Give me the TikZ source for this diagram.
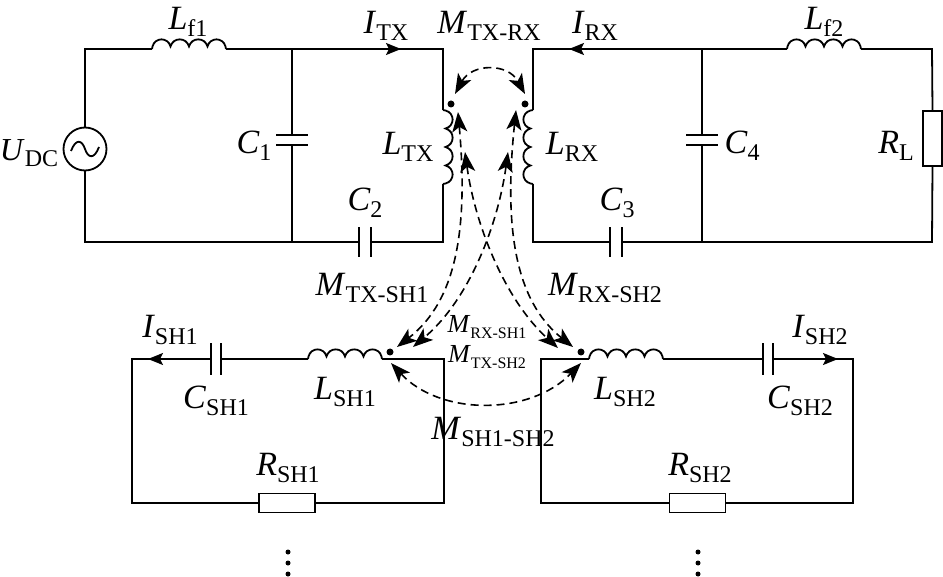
\documentclass[tikz,border=0pt]{standalone}
\usepackage{fontspec}
\setmainfont{Liberation Serif}
\usetikzlibrary{arrows.meta}
\newcommand{\lab}[2]{\textit{#1}\raisebox{-0.2em}{\fontsize{24}{24}\selectfont #2}}
\newcommand{\labs}[2]{{\fontsize{26}{26}\selectfont\textit{#1}\raisebox{-0.2em}{\fontsize{16}{16}\selectfont #2}}}
\tikzset{
  wire/.style={line width=1.8pt,line join=miter},
  tipS/.tip={Stealth[length=20pt,width=15pt,inset=5pt]},
  mutual/.style={line width=1.6pt,dash pattern=on 8pt off 5pt,{tipS}-{tipS}},
  cur/.style={line width=1.8pt,-{Stealth[length=15pt,width=12pt,inset=3pt]}},
  lbl/.style={font=\fontsize{34}{34}\selectfont,inner sep=0pt},
  dotn/.style={circle,fill=black,inner sep=0pt,minimum size=7pt},
  vdotn/.style={circle,fill=black,inner sep=0pt,minimum size=5pt},
  resn/.style={draw,line width=1.6pt,fill=white,inner sep=0pt},
  coil/.pic={\draw[wire] (0,0) -- (0.5,-2.5)
    .. controls (3,-12) and (16,-12) .. (18.5,-2.5)
    .. controls (21,-12) and (34.5,-12) .. (37,-2.5)
    .. controls (39.5,-12) and (53,-12) .. (55.5,-2.5)
    .. controls (58,-12) and (71,-12) .. (73.5,-2.5) -- (74,0);},
}
\begin{document}
\begin{tikzpicture}[x=1pt,y=-1pt]
\useasboundingbox (0,0) rectangle (943,577);
% --- coordinates
\coordinate (a1) at (85,49); \coordinate (a2) at (292,49); \coordinate (a3) at (443,49);
\coordinate (a4) at (443,242); \coordinate (a5) at (292,242); \coordinate (a6) at (85,242);
\coordinate (lf1a) at (152,49); \coordinate (lf1b) at (226,49);
\coordinate (ltxa) at (443,110); \coordinate (ltxb) at (443,184);
\coordinate (c1a) at (292,135); \coordinate (c1b) at (292,145);
\coordinate (c2a) at (359,242); \coordinate (c2b) at (371,242);
\coordinate (b1) at (533,49); \coordinate (b2) at (702,49); \coordinate (b3) at (932,49);
\coordinate (b4) at (932,242); \coordinate (b5) at (702,242); \coordinate (b6) at (533,242);
\coordinate (lf2a) at (787,49); \coordinate (lf2b) at (861,49);
\coordinate (lrxa) at (533,110); \coordinate (lrxb) at (533,184);
\coordinate (c4a) at (702,135); \coordinate (c4b) at (702,145);
\coordinate (c3a) at (610,242); \coordinate (c3b) at (622,242);
\coordinate (s1) at (132,359); \coordinate (s2) at (444,359); \coordinate (s3) at (444,503); \coordinate (s4) at (132,503);
\coordinate (lsaa) at (308,359); \coordinate (lsab) at (382,359);
\coordinate (csaa) at (211,359); \coordinate (csab) at (221,359);
\coordinate (t1) at (541,359); \coordinate (t2) at (853,359); \coordinate (t3) at (853,503); \coordinate (t4) at (541,503);
\coordinate (lsba) at (589,359); \coordinate (lsbb) at (663,359);
\coordinate (csba) at (763,359); \coordinate (csbb) at (773,359);
% --- parts
\node[draw,circle,line width=1.8pt,minimum size=43pt,inner sep=0pt] (src) at (85,149) {};
\node[resn,minimum width=19pt,minimum height=55pt] (rl) at (932.5,138.5) {};
\node[resn,minimum width=56pt,minimum height=19pt] (rs1) at (287,503) {};
\node[resn,minimum width=56pt,minimum height=19pt] (rs2) at (697.5,503) {};
\draw[wire] (71,151) .. controls (76,138) and (82,140) .. (85,149) .. controls (88,158) and (94,160) .. (99,147);
% --- wires
\draw[wire] (src.north) -- (a1) -- (lf1a);
\draw[wire] (lf1b) -- (a2) -- (a3) -- (ltxa);
\draw[wire] (ltxb) -- (a4) -- (c2b);
\draw[wire] (c2a) -- (a5) -- (a6) -- (src.south);
\draw[wire] (a2) -- (c1a); \draw[wire] (c1b) -- (a5);
\draw[wire] (lrxa) -- (b1) -- (b2) -- (lf2a);
\draw[wire] (lf2b) -- (b3) -- (rl.north);
\draw[wire] (rl.south) -- (b4) -- (b5) -- (c3b);
\draw[wire] (c3a) -- (b6) -- (lrxb);
\draw[wire] (b2) -- (c4a); \draw[wire] (c4b) -- (b5);
\draw[wire] (csaa) -- (s1) -- (s4) -- (rs1.west);
\draw[wire] (rs1.east) -- (s3) -- (s2) -- (lsab);
\draw[wire] (lsaa) -- (csab);
\draw[wire] (lsba) -- (t1) -- (t4) -- (rs2.west);
\draw[wire] (rs2.east) -- (t3) -- (t2) -- (csbb);
\draw[wire] (csba) -- (lsbb);
% --- coils
\pic at (lf1a) {coil}; \pic at (lf2a) {coil}; \pic at (lsaa) {coil}; \pic at (lsba) {coil};
\pic[rotate=-90] at (ltxa) {coil};
\pic[rotate=90] at (lrxb) {coil};
% --- capacitors
\draw[wire] ([xshift=-16pt]c1a) -- ([xshift=16pt]c1a);
\draw[wire] ([xshift=-16pt]c1b) -- ([xshift=16pt]c1b);
\draw[wire] ([xshift=-16pt]c4a) -- ([xshift=16pt]c4a);
\draw[wire] ([xshift=-16pt]c4b) -- ([xshift=16pt]c4b);
\draw[wire] ([yshift=-15pt]c2a) -- ([yshift=15pt]c2a);
\draw[wire] ([yshift=-15pt]c2b) -- ([yshift=15pt]c2b);
\draw[wire] ([yshift=-15pt]c3a) -- ([yshift=15pt]c3a);
\draw[wire] ([yshift=-15pt]c3b) -- ([yshift=15pt]c3b);
\draw[wire] ([yshift=-16pt]csaa) -- ([yshift=16pt]csaa);
\draw[wire] ([yshift=-16pt]csab) -- ([yshift=16pt]csab);
\draw[wire] ([yshift=-16pt]csba) -- ([yshift=16pt]csba);
\draw[wire] ([yshift=-16pt]csbb) -- ([yshift=16pt]csbb);
% --- current arrows
\coordinate (itx) at (380,49); \coordinate (itxe) at (401,49);
\coordinate (irx) at (590,49); \coordinate (irxe) at (569,49);
\coordinate (ia) at (170,359); \coordinate (iae) at (148,359);
\coordinate (ib) at (815,359); \coordinate (ibe) at (838,359);
\draw[cur] (itx) -- (itxe); \draw[cur] (irx) -- (irxe);
\draw[cur] (ia) -- (iae); \draw[cur] (ib) -- (ibe);
% --- dots
\node[dotn] (d1) at (451,104) {};
\node[dotn] (d2) at (525,104) {};
\node[dotn] (d3) at (390,352) {};
\node[dotn] (d4) at (581,352) {};
% --- mutual couplings
\coordinate (m1a) at (455,94); \coordinate (m1b) at (525,94);
\coordinate (tx1) at (458,112); \coordinate (tx2) at (465,152);
\coordinate (rx1) at (516,110); \coordinate (rx2) at (508,152);
\coordinate (sa1) at (397,347); \coordinate (sa2) at (413,347);
\coordinate (sb1) at (558,348); \coordinate (sb2) at (573,347);
\coordinate (ma) at (391,363); \coordinate (mb) at (581,363);
\draw[mutual] (m1a) .. controls (472,63) and (508,63) .. (m1b);
\draw[mutual] (tx1) .. controls (468,225) and (458,300) .. (sa1);
\draw[mutual] (tx2) .. controls (475,225) and (505,300) .. (sb1);
\draw[mutual] (rx1) .. controls (504,225) and (514,300) .. (sb2);
\draw[mutual] (rx2) .. controls (498,225) and (469,300) .. (sa2);
\draw[mutual] (ma) .. controls (440,416) and (530,416) .. (mb);
% --- labels
\node[lbl] (Lf1) at (188,22) {\lab{L}{f1}};
\node[lbl] (ITX) at (386,26) {\lab{I}{TX}};
\node[lbl] (MTR) at (489,26) {\lab{M}{TX-RX}};
\node[lbl] (IRX) at (595,26) {\lab{I}{RX}};
\node[lbl] (Lf2) at (824,22) {\lab{L}{f2}};
\node[lbl,font=\fontsize{32}{32}\selectfont] (UDC) at (29,153) {\lab{U}{DC}};
\node[lbl] (C1) at (254,146) {\lab{C}{1}};
\node[lbl] (LTX) at (408,147) {\lab{L}{TX}};
\node[lbl] (LRX) at (572,147) {\lab{L}{RX}};
\node[lbl] (C4) at (742,146) {\lab{C}{4}};
\node[lbl] (RL) at (896,146) {\lab{R}{L}};
\node[lbl] (C2) at (365,203) {\lab{C}{2}};
\node[lbl] (C3) at (617,203) {\lab{C}{3}};
\node[lbl] (MTS1) at (372,288) {\lab{M}{TX-SH1}};
\node[lbl] (MRS2) at (605,288) {\lab{M}{RX-SH2}};
\node[lbl] (ISH1) at (170,330) {\lab{I}{SH1}};
\node[lbl] (ISH2) at (820,330) {\lab{I}{SH2}};
\node[lbl] (CSH1) at (216,401) {\lab{C}{SH1}};
\node[lbl] (LSH1) at (345,392) {\lab{L}{SH1}};
\node[lbl] (CSH2) at (800,401) {\lab{C}{SH2}};
\node[lbl] (LSH2) at (625,392) {\lab{L}{SH2}};
\node[lbl] (MSS) at (493,432) {\lab{M}{SH1-SH2}};
\node[lbl] (MRS1) at (487,327) {\labs{M}{RX-SH1}};
\node[lbl] (MTS2) at (487,357) {\labs{M}{TX-SH2}};
\node[lbl] (RSH1) at (288,468) {\lab{R}{SH1}};
\node[lbl] (RSH2) at (700,468) {\lab{R}{SH2}};
\node[vdotn] (va1) at (288,552) {}; \node[vdotn] (va2) at (288,563) {}; \node[vdotn] (va3) at (288,574) {};
\node[vdotn] (vb1) at (698,552) {}; \node[vdotn] (vb2) at (698,563) {}; \node[vdotn] (vb3) at (698,574) {};
\end{tikzpicture}
\end{document}
